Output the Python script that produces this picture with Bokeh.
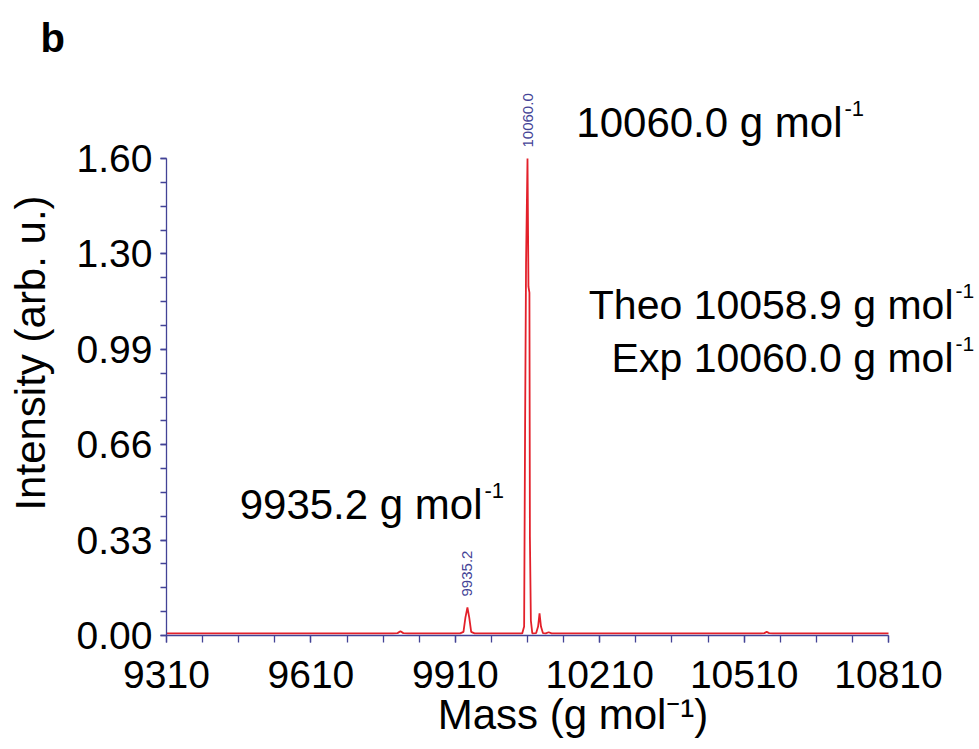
from math import pi
from bokeh.plotting import figure
from bokeh.models import Range1d, FixedTicker, Label, Title
from bokeh.embed import file_html
from bokeh.resources import INLINE

# ---- data ----
mass = [9310, 9780, 9790, 9796, 9802, 9812, 9920, 9927, 9931, 9935.2, 9939, 9943, 9950,
        10049, 10053, 10055, 10057, 10060, 10062, 10064, 10065, 10067, 10070,
        10078, 10082, 10085, 10088, 10092, 10098, 10104, 10110,
        10545, 10552, 10557, 10562, 10570, 10810]
intensity = [0.007, 0.007, 0.008, 0.014, 0.008, 0.007, 0.007, 0.012, 0.06, 0.094, 0.06, 0.012, 0.007,
             0.007, 0.03, 0.70, 1.25, 1.6, 1.17, 1.15, 0.33, 0.05, 0.007,
             0.008, 0.03, 0.074, 0.03, 0.008, 0.007, 0.011, 0.007,
             0.007, 0.008, 0.012, 0.008, 0.007, 0.007]

x_ticks = [9310, 9610, 9910, 10210, 10510, 10810]
y_ticks = [0.0, 0.32, 0.64, 0.96, 1.28, 1.60]
y_tick_labels = ["0.00", "0.33", "0.66", "0.99", "1.30", "1.60"]

peak_masses = [10060.0, 9935.2]
peak_heights = [1.60, 0.094]
peak_tags = ["10060.0", "9935.2"]

# ---- layout ----
W, H = 979, 749
L, T, B = 166, 70, 114          # frame: left edge, top edge, bottom border
XMIN, XMAX, YMIN, YMAX = 9310, 10810, 0.0, 1.6
AX_RIGHT_PX, AX_TOP_PX = 888, 158   # where the axes end
SX = (AX_RIGHT_PX - L) / (XMAX - XMIN)      # px per mass unit
SY = (H - B - AX_TOP_PX) / (YMAX - YMIN)    # px per intensity unit
X_END = XMIN + (W - L) / SX
Y_END = YMIN + (H - B - T) / SY

def px2x(px):
    return XMIN + (px - L) / SX

def py2y(py):
    return YMIN + (H - B - py) / SY

NAVY = "#434396"
RED = "#e3202a"
FONT = "Liberation Sans"

p = figure(width=W, height=H, output_backend="svg", toolbar_location=None,
           x_range=Range1d(XMIN, X_END), y_range=Range1d(YMIN, Y_END),
           min_border_left=L, min_border_right=0, min_border_top=T, min_border_bottom=B)
p.outline_line_color = None
p.grid.visible = False
p.background_fill_color = "white"
p.border_fill_color = "white"

p.line(mass, intensity, line_color=RED, line_width=1.8)

for ax in (p.xaxis[0], p.yaxis[0]):
    ax.axis_line_color = NAVY
    ax.axis_line_width = 1.3
    ax.major_tick_line_color = NAVY
    ax.minor_tick_line_color = NAVY
    ax.major_tick_line_width = 1.3
    ax.minor_tick_line_width = 1.3
    ax.major_tick_in = 0
    ax.minor_tick_in = 0
    ax.major_label_text_font = FONT
    ax.major_label_text_font_size = "39px"
    ax.major_label_text_color = "black"
    ax.axis_label_text_font = FONT
    ax.axis_label_text_font_size = "42px"
    ax.axis_label_text_font_style = "normal"
    ax.axis_label_text_color = "black"

p.xaxis[0].bounds = (XMIN, XMAX)
p.xaxis[0].ticker = FixedTicker(ticks=x_ticks, minor_ticks=list(range(XMIN, XMAX + 1, 75)))
p.xaxis[0].major_tick_out = 7
p.xaxis[0].minor_tick_out = 7
p.xaxis[0].major_label_standoff = 18
p.xaxis[0].axis_label = "Mass (g mol\u207b\u00b9)"
p.xaxis[0].axis_label_standoff = 0

p.yaxis[0].bounds = (YMIN, YMAX)
p.yaxis[0].ticker = FixedTicker(ticks=y_ticks, minor_ticks=[i * 0.08 for i in range(21)])
p.yaxis[0].major_label_overrides = {t: s for t, s in zip(y_ticks, y_tick_labels)}
p.yaxis[0].major_tick_out = 6
p.yaxis[0].minor_tick_out = 6
p.yaxis[0].major_label_standoff = 8
p.yaxis[0].axis_label = "Intensity (arb. u.)"
p.yaxis[0].axis_label_standoff = 20

# panel letter
p.add_layout(Title(text="b", align="left", offset=40 - L, standoff=22,
                   text_font=FONT, text_font_size="40px", text_font_style="bold",
                   text_color="black"), "above")

# small rotated peak tags
for m, h, t in zip(peak_masses, peak_heights, peak_tags):
    p.add_layout(Label(x=m, y=h, text=t, angle=pi / 2, y_offset=11,
                       text_align="left", text_baseline="middle",
                       text_font=FONT, text_font_size="15px", text_color=NAVY))

# annotation texts with superscript (main text ends at l_end px)
def sup_label(text, l_end, base_py, fs=42, sfs=22):
    p.add_layout(Label(x=px2x(l_end), y=py2y(base_py), text=text, text_align="right",
                       text_baseline="alphabetic", text_font=FONT,
                       text_font_size=f"{fs}px", text_color="black"))
    p.add_layout(Label(x=px2x(l_end + 2), y=py2y(base_py - 14), text="-1",
                       text_align="left", text_baseline="alphabetic", text_font=FONT,
                       text_font_size=f"{sfs}px", text_color="black"))

sup_label("10060.0 g mol", 842, 122)
sup_label("Theo 10058.9 g mol", 953, 304, fs=41, sfs=21)
sup_label("Exp 10060.0 g mol", 953, 357, fs=41, sfs=21)
sup_label("9935.2 g mol", 482, 504)

open("out.html", "w").write(file_html(p, INLINE))
